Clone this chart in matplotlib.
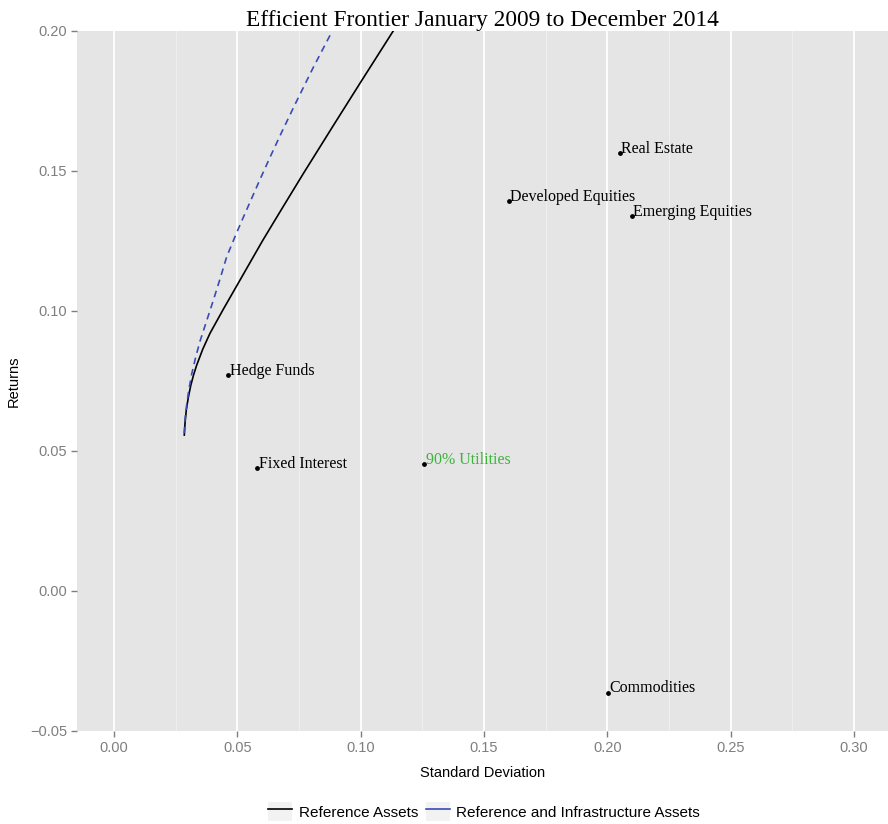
import matplotlib
matplotlib.use("Agg")
import matplotlib.pyplot as plt
from matplotlib.lines import Line2D
from matplotlib.patches import Patch
import numpy as np

# frontier (standard deviation, return)
ref_sd = [0.0285, 0.0288, 0.0293, 0.0301, 0.0311, 0.0322, 0.0335, 0.0360, 0.0389, 0.0443,
          0.0497, 0.0573, 0.0603, 0.0653, 0.0686, 0.0767, 0.0889, 0.0997, 0.1132]
ref_ret = [0.0557, 0.0600, 0.0645, 0.0690, 0.0733, 0.0770, 0.0806, 0.0864, 0.0920, 0.1006,
           0.1089, 0.1206, 0.1252, 0.1325, 0.1373, 0.1490, 0.1662, 0.1813, 0.2000]

infra_sd = [0.0285, 0.0288, 0.0294, 0.0303, 0.0315, 0.0332, 0.0349, 0.0376, 0.0403, 0.0430,
            0.0457, 0.0495, 0.0522, 0.0592, 0.0632, 0.0679, 0.0734, 0.0808, 0.0885]
infra_ret = [0.0563, 0.0612, 0.0660, 0.0716, 0.0775, 0.0838, 0.0893, 0.0966, 0.1039, 0.1115,
             0.1194, 0.1275, 0.1330, 0.1470, 0.1548, 0.1637, 0.1738, 0.1870, 0.2000]

assets = ["Hedge Funds", "Fixed Interest", "90% Utilities", "Developed Equities",
          "Real Estate", "Emerging Equities", "Commodities"]
asset_sd = [0.0463, 0.0581, 0.1258, 0.1600, 0.2050, 0.2100, 0.2004]
asset_ret = [0.0771, 0.0438, 0.0454, 0.1394, 0.1564, 0.1339, -0.0363]
label_colors = ["black", "black", "#3DB53D", "black", "black", "black", "black"]

BLUE = "#3A4BB5"
GREY_TXT = "#7F7F7F"

fig = plt.figure(figsize=(8.88, 8.24), dpi=100)
ax = fig.add_axes([77 / 888, 93 / 824, 1 - 77 / 888, 700 / 824])
ax.set_facecolor("#E5E5E5")
for s in ax.spines.values():
    s.set_visible(False)

ax.set_xlim(-0.015, 0.3138)
ax.set_ylim(-0.05, 0.20)
ax.set_xticks(np.arange(0, 0.31, 0.05))
ax.set_xticks(np.arange(0.025, 0.31, 0.05), minor=True)
ax.set_yticks(np.arange(-0.05, 0.201, 0.05))
ax.xaxis.set_major_formatter(matplotlib.ticker.FormatStrFormatter("%.2f"))
ax.yaxis.set_major_formatter(matplotlib.ticker.FuncFormatter(
    lambda v, p: ("\u2212%.2f" % -v) if v < -1e-9 else "%.2f" % abs(v)))
ax.grid(True, axis="x", which="major", color="white", linewidth=1.3)
ax.grid(True, axis="x", which="minor", color="#F2F2F2", linewidth=0.6)
ax.set_axisbelow(True)
ax.tick_params(axis="both", which="major", colors=GREY_TXT, length=4, width=1,
               labelsize=10.5, pad=3)
ax.tick_params(axis="x", which="minor", length=0)
for lab in ax.get_xticklabels() + ax.get_yticklabels():
    lab.set_fontfamily("Liberation Sans")

ax.plot(ref_sd, ref_ret, color="black", linewidth=1.2, solid_joinstyle="round")
ax.plot(infra_sd, infra_ret, color=BLUE, linewidth=1.2, linestyle=(0, (4, 3)))

ax.scatter(asset_sd, asset_ret, s=6, color="black", zorder=3)
for name, x, y, c in zip(assets, asset_sd, asset_ret, label_colors):
    ax.annotate(name, (x, y), xytext=(1, 3), textcoords="offset points",
                ha="left", va="center", color=c, fontsize=11.5,
                fontfamily="Liberation Serif")

ax.set_xlabel("Standard Deviation", fontsize=10.5, fontfamily="Liberation Sans", labelpad=8)
ax.set_ylabel("Returns", fontsize=10.5, fontfamily="Liberation Sans", labelpad=7)
ax.set_title("Efficient Frontier January 2009 to December 2014", fontsize=16.8,
             fontfamily="Liberation Serif", pad=2)

key_bg = "#F2F2F2"
handles = [(Patch(facecolor=key_bg, edgecolor="none"), Line2D([0], [0], color="black", linewidth=1.2)),
           (Patch(facecolor=key_bg, edgecolor="none"), Line2D([0], [0], color=BLUE, linewidth=1.2))]
fig.legend(handles, ["Reference Assets", "Reference and Infrastructure Assets"],
           loc="center", bbox_to_anchor=(0.545, 0.015), ncol=2, frameon=False,
           handlelength=1.6, handleheight=1.6, handletextpad=0.4, columnspacing=0.5,
           prop={"family": "Liberation Sans", "size": 11})

fig.savefig("out.png", dpi=100)
